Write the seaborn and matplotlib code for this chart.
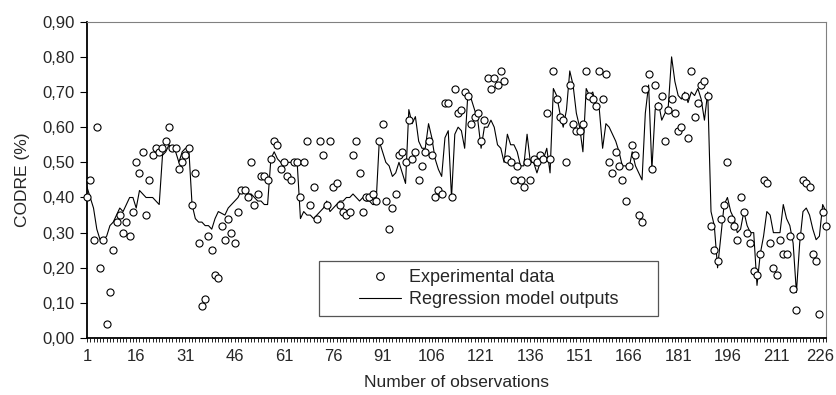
import numpy as np
import pandas as pd
import matplotlib
matplotlib.use('Agg')
import matplotlib.pyplot as plt
import matplotlib.transforms as mtransforms
import seaborn as sns
from matplotlib.lines import Line2D
from matplotlib.patches import Rectangle
from matplotlib.ticker import FixedLocator, FuncFormatter

experimental = [
    0.40, 0.45, 0.28, 0.60, 0.20, 0.28, 0.04, 0.13, 0.25, 0.33,
    0.35, 0.30, 0.33, 0.29, 0.36, 0.50, 0.47, 0.53, 0.35, 0.45,
    0.52, 0.54, 0.53, 0.54, 0.56, 0.60, 0.54, 0.54, 0.48, 0.50,
    0.52, 0.54, 0.38, 0.47, 0.27, 0.09, 0.11, 0.29, 0.25, 0.18,
    0.17, 0.32, 0.28, 0.34, 0.30, 0.27, 0.36, 0.42, 0.42, 0.40,
    0.50, 0.38, 0.41, 0.46, 0.46, 0.45, 0.51, 0.56, 0.55, 0.48,
    0.50, 0.46, 0.45, 0.50, 0.50, 0.40, 0.50, 0.56, 0.38, 0.43,
    0.34, 0.56, 0.52, 0.38, 0.56, 0.43, 0.44, 0.38, 0.36, 0.35,
    0.36, 0.52, 0.56, 0.47, 0.36, 0.40, 0.40, 0.41, 0.39, 0.56,
    0.61, 0.39, 0.31, 0.37, 0.41, 0.52, 0.53, 0.50, 0.62, 0.51,
    0.53, 0.45, 0.49, 0.53, 0.56, 0.52, 0.40, 0.42, 0.41, 0.67,
    0.67, 0.40, 0.71, 0.64, 0.65, 0.70, 0.69, 0.61, 0.63, 0.64,
    0.56, 0.62, 0.74, 0.71, 0.74, 0.72, 0.76, 0.73, 0.51, 0.50,
    0.45, 0.49, 0.45, 0.43, 0.50, 0.45, 0.51, 0.50, 0.52, 0.51,
    0.64, 0.51, 0.76, 0.68, 0.63, 0.62, 0.50, 0.72, 0.61, 0.59,
    0.59, 0.61, 0.76, 0.69, 0.68, 0.66, 0.76, 0.68, 0.75, 0.50,
    0.47, 0.53, 0.49, 0.45, 0.39, 0.49, 0.55, 0.52, 0.35, 0.33,
    0.71, 0.75, 0.48, 0.72, 0.66, 0.69, 0.56, 0.65, 0.68, 0.64,
    0.59, 0.60, 0.69, 0.57, 0.76, 0.63, 0.67, 0.72, 0.73, 0.69,
    0.32, 0.25, 0.22, 0.34, 0.38, 0.50, 0.34, 0.32, 0.28, 0.40,
    0.36, 0.30, 0.27, 0.19, 0.18, 0.24, 0.45, 0.44, 0.27, 0.20,
    0.18, 0.28, 0.24, 0.24, 0.29, 0.14, 0.08, 0.29, 0.45, 0.44,
    0.43, 0.24, 0.22, 0.07, 0.36, 0.32,
]

regression = [
    0.43, 0.40, 0.37, 0.31, 0.28, 0.28, 0.29, 0.32, 0.33, 0.35,
    0.37, 0.36, 0.38, 0.40, 0.40, 0.37, 0.42, 0.41, 0.40, 0.40,
    0.40, 0.39, 0.38, 0.52, 0.53, 0.55, 0.54, 0.53, 0.50, 0.53,
    0.54, 0.54, 0.38, 0.34, 0.33, 0.33, 0.32, 0.32, 0.31, 0.34,
    0.36, 0.355, 0.35, 0.37, 0.38, 0.39, 0.40, 0.42, 0.42, 0.41,
    0.41, 0.40, 0.39, 0.39, 0.38, 0.38, 0.51, 0.53, 0.51, 0.50,
    0.49, 0.50, 0.50, 0.50, 0.50, 0.34, 0.36, 0.35, 0.35, 0.34,
    0.35, 0.36, 0.37, 0.39, 0.36, 0.37, 0.38, 0.39, 0.39, 0.40,
    0.40, 0.41, 0.40, 0.39, 0.40, 0.39, 0.39, 0.38, 0.38, 0.56,
    0.53, 0.50, 0.49, 0.46, 0.47, 0.50, 0.47, 0.44, 0.65, 0.61,
    0.63, 0.56, 0.54, 0.54, 0.61, 0.57, 0.51, 0.48, 0.46, 0.57,
    0.59, 0.40, 0.58, 0.60, 0.59, 0.54, 0.70, 0.68, 0.65, 0.62,
    0.54, 0.60, 0.60, 0.62, 0.60, 0.55, 0.54, 0.50, 0.58, 0.55,
    0.55, 0.53, 0.49, 0.49, 0.58, 0.50, 0.50, 0.47, 0.50, 0.51,
    0.54, 0.47, 0.71, 0.69, 0.64, 0.60, 0.65, 0.76, 0.72, 0.64,
    0.60, 0.53, 0.71, 0.69, 0.70, 0.66, 0.65, 0.54, 0.61, 0.60,
    0.58, 0.56, 0.53, 0.49, 0.49, 0.48, 0.53, 0.49, 0.47, 0.45,
    0.64, 0.72, 0.48, 0.65, 0.67, 0.62, 0.64, 0.66, 0.80, 0.73,
    0.69, 0.68, 0.70, 0.67, 0.70, 0.69, 0.71, 0.68, 0.62, 0.70,
    0.36, 0.32, 0.20, 0.29, 0.38, 0.40, 0.36, 0.34, 0.30, 0.31,
    0.36, 0.32, 0.30, 0.30, 0.15, 0.24, 0.29, 0.36, 0.35, 0.30,
    0.30, 0.30, 0.38, 0.34, 0.32, 0.27, 0.13, 0.27, 0.36, 0.37,
    0.35, 0.31, 0.28, 0.29, 0.38, 0.36,
]

x_tick_labels = list(range(1, 227, 15))
y_ticks = [0.0, 0.1, 0.2, 0.3, 0.4, 0.5, 0.6, 0.7, 0.8, 0.9]

obs = np.arange(1, len(experimental) + 1)
df = pd.DataFrame({'obs': obs, 'experimental': experimental, 'model': regression})

sns.set_style('ticks')
plt.rcParams['font.family'] = ['Liberation Sans', 'DejaVu Sans']

fig = plt.figure(figsize=(8.36, 3.95), dpi=100)
ax = fig.add_axes([0.104, 0.144, 0.884, 0.801])

# regression line under the markers
sns.lineplot(data=df, x='obs', y='model', color='black', linewidth=0.8,
             ax=ax, zorder=2, legend=False)
sns.scatterplot(data=df, x='obs', y='experimental', s=26, color='white',
                edgecolor='black', linewidth=0.8, ax=ax, zorder=3,
                clip_on=False, legend=False)

ax.set_xlim(1, 226)
ax.set_ylim(0, 0.9)

ax.xaxis.set_major_locator(FixedLocator(x_tick_labels))
ax.xaxis.set_minor_locator(FixedLocator(list(obs)))
ax.set_xticklabels([str(v) for v in x_tick_labels])
ax.yaxis.set_major_locator(FixedLocator(y_ticks))
ax.yaxis.set_major_formatter(FuncFormatter(lambda v, p: f'{v:.2f}'.replace('.', ',')))

ax.tick_params(axis='x', which='both', direction='out', length=3, width=0.6,
               color='black', pad=5, labelsize=12)
ax.tick_params(axis='y', direction='out', length=5, width=0.8, color='black',
               pad=4, labelsize=12)

# last label sits inside the figure edge
last = ax.get_xticklabels()[-1]
last.set_horizontalalignment('right')
last.set_transform(last.get_transform() +
                   mtransforms.ScaledTranslation(8 / 100, 0, fig.dpi_scale_trans))

for side in ['left', 'bottom']:
    ax.spines[side].set_color('black')
    ax.spines[side].set_linewidth(1.3)
for side in ['top', 'right']:
    ax.spines[side].set_color('#808080')
    ax.spines[side].set_linewidth(0.8)

ax.set_xlabel('Number of observations', fontsize=12.5, labelpad=8)
ax.set_ylabel('CODRE (%)', fontsize=12.5, labelpad=9)

# legend box
ax.add_patch(Rectangle((0.314, 0.07), 0.459, 0.173, transform=ax.transAxes,
                       facecolor='white', edgecolor='#555555', linewidth=0.9,
                       zorder=4))
handles = [
    Line2D([], [], marker='o', linestyle='none', markerfacecolor='white',
           markeredgecolor='black', markersize=5.5, markeredgewidth=0.8),
    Line2D([], [], color='black', linewidth=0.8),
]
ax.legend(handles, ['Experimental data', 'Regression model outputs'],
          loc='center', bbox_to_anchor=(0.5435, 0.1565), frameon=False,
          fontsize=13, handlelength=2.3, handletextpad=0.45, labelspacing=0.3)

fig.savefig('out.png', dpi=100)
